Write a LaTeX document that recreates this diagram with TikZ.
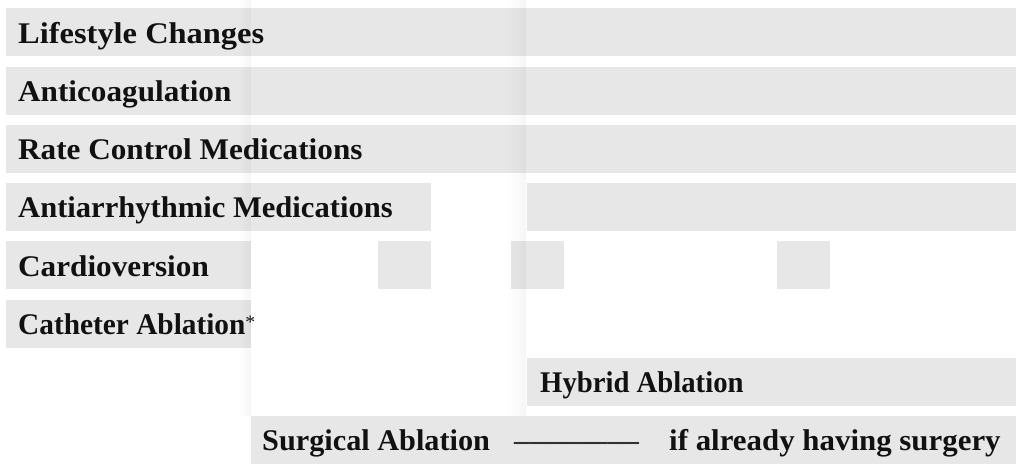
\documentclass[tikz,border=0pt]{standalone}
\usepackage{fontspec}
\newfontfamily\barfont[FakeStretch=1.04]{Liberation Serif}
\usetikzlibrary{positioning, fadings}
\definecolor{bargrey}{RGB}{230, 231, 230}
\definecolor{inkblack}{RGB}{17, 17, 17}
\definecolor{dashgrey}{RGB}{50, 50, 50}

\tikzset{
  bar/.style={fill=bargrey, draw=none, inner sep=0pt, minimum height=48pt, anchor=north west},
  lbl/.style={anchor=base west, inner sep=0pt, text=inkblack, font=\barfont\bfseries\fontsize{30}{30}\selectfont}
}

\begin{document}
\begin{tikzpicture}[x=1pt, y=-1pt]
                    \useasboundingbox (0,0) rectangle (1023,475);
                    % rows of bars
                    \node[bar, minimum width=1010pt] (life) at (6,8) {};
                    \node[bar, minimum width=1010pt] (anti) at (6,66.3) {};
                    \node[bar, minimum width=1010pt] (rate) at (6,124.6) {};
                    \node[bar, minimum width=425pt] (arrA) at (6,182.9) {};
                    \node[bar, minimum width=489pt] (arrB) at (527,182.9) {};
                    \node[bar, minimum width=245pt] (card) at (6,241.2) {};
                    \node[bar, minimum width=53pt] (cardA) at (378,241.2) {};
                    \node[bar, minimum width=53pt] (cardB) at (511,241.2) {};
                    \node[bar, minimum width=53pt] (cardC) at (777,241.2) {};
                    \node[bar, minimum width=245pt] (cath) at (6,299.5) {};
                    \node[bar, minimum width=489pt] (hyb) at (527,357.8) {};
                    \node[bar, minimum width=765pt] (surg) at (251,416.1) {};
                    % faint column shadows
                    \fill[black, opacity=0.035, path fading=west] (238,0) rectangle (251,416);
                    \fill[black, opacity=0.035, path fading=west] (506,0) rectangle (526,416);
                    % labels
                    \node[lbl] (lifeT) at (18,43) {\scalebox{1.04}[1]{Lifestyle Changes}};
                    \node[lbl] (antiT) at (18,101.3) {Anticoagulation};
                    \node[lbl] (rateT) at (18,159.6) {Rate Control Medications};
                    \node[lbl] (arrT) at (18,217.9) {\scalebox{0.98}[1]{Antiarrhythmic Medications}};
                    \node[lbl] (cardT) at (18,276.2) {Cardioversion};
                    \node[lbl] (cathT) at (18,334.5) {\scalebox{0.94}[1]{Catheter Ablation}{\fontsize{19}{19}\selectfont\mdseries\raisebox{6pt}{*}}};
                    \node[lbl] (hybT) at (540,392.3) {\scalebox{0.92}[1]{Hybrid Ablation}};
                    \node[lbl] (surgT) at (262,450.1) {\scalebox{0.97}[1]{Surgical Ablation}};
                    \node[lbl, text=dashgrey] (dashT) at (514,450.1) {––––––––};
                    \node[lbl] (ifT) at (669,450.1) {\scalebox{0.99}[1]{if already having surgery}};
                \end{tikzpicture}
\end{document}
